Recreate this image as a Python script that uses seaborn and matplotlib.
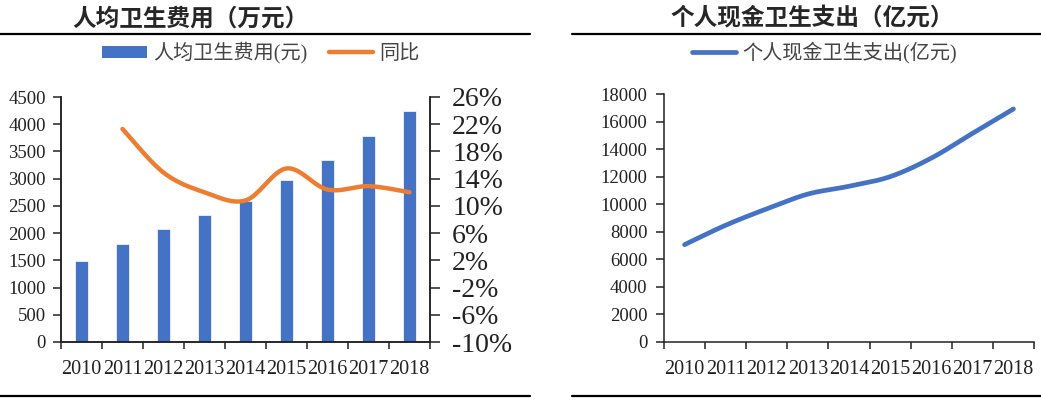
import numpy as np
import pandas as pd
import matplotlib
matplotlib.use("Agg")
import matplotlib.pyplot as plt
import seaborn as sns
from matplotlib.lines import Line2D
from matplotlib.patches import Patch
from matplotlib.ticker import FuncFormatter, MultipleLocator, FixedLocator

years = ["2010", "2011", "2012", "2013", "2014", "2015", "2016", "2017", "2018"]
per_capita = [1490, 1807, 2077, 2327, 2582, 2981, 3352, 3784, 4237]
yoy = [np.nan, 21.3, 14.9, 12.0, 10.8, 15.5, 12.4, 12.9, 12.0]
oop = [7051, 8465, 9656, 10729, 11295, 11993, 13338, 15134, 16912]
pct_ticks = [-10, -6, -2, 2, 6, 10, 14, 18, 22, 26]

BLUE = "#4472C4"
ORANGE = "#ED7D31"
CJK = "Noto Sans CJK SC"
SERIF = "Liberation Serif"

sns.set_style("ticks")
plt.rcParams["font.family"] = [SERIF, CJK]
plt.rcParams["axes.linewidth"] = 1.1
plt.rcParams["axes.edgecolor"] = "#222222"
plt.rcParams["xtick.color"] = "#222222"
plt.rcParams["ytick.color"] = "#222222"


def smooth(xs, ys, n=30):
    # excel-like smoothed line through the points (bezier, 1/6 tension)
    pts = np.column_stack([xs, ys]).astype(float)
    out = []
    for i in range(len(pts) - 1):
        p0 = pts[max(i - 1, 0)]
        p1 = pts[i]
        p2 = pts[i + 1]
        p3 = pts[min(i + 2, len(pts) - 1)]
        c1 = p1 + (p2 - p0) / 6
        c2 = p2 - (p3 - p1) / 6
        t = np.linspace(0, 1, n)[:, None]
        seg = (1 - t) ** 3 * p1 + 3 * (1 - t) ** 2 * t * c1 + 3 * (1 - t) * t ** 2 * c2 + t ** 3 * p2
        out.append(seg if i == 0 else seg[1:])
    out = np.vstack(out)
    return pd.DataFrame({"x": out[:, 0], "y": out[:, 1]})


def year_axis(ax, pad):
    ax.set_xlim(-0.5, len(years) - 0.5)
    ax.set_xticks(range(len(years)))
    ax.set_xticklabels(years)
    ax.set_xticks(np.arange(-0.5, len(years)), minor=True)
    ax.tick_params(axis="x", which="major", length=0, pad=pad, labelsize=14.5)
    ax.tick_params(axis="x", which="minor", length=5, width=1.1, direction="out")
    ax.set_xlabel("")
    ax.set_ylabel("")


fig = plt.figure(figsize=(10.41, 4.0), dpi=100)

# ---------- left panel ----------
ax = fig.add_axes([61 / 1041, 58 / 400, 369 / 1041, 245 / 400])
df_bar = pd.DataFrame({"year": years, "val": per_capita})
sns.barplot(data=df_bar, x="year", y="val", color=BLUE, saturation=1, width=0.32,
            edgecolor="white", linewidth=0.5, ax=ax)
ax.set_ylim(0, 4500)
ax.yaxis.set_major_locator(MultipleLocator(500))
ax.tick_params(axis="y", length=6, width=1.1, pad=5, labelsize=13.5)
year_axis(ax, 13)
ax.spines["top"].set_visible(False)

ax2 = ax.twinx()
valid = [i for i, v in enumerate(yoy) if not np.isnan(v)]
curve = smooth(valid, [yoy[i] for i in valid])
sns.lineplot(data=curve, x="x", y="y", color=ORANGE, linewidth=3.2, sort=False,
             estimator=None, ax=ax2, solid_capstyle="round")
ax2.set_ylim(-10, 26)
ax2.yaxis.set_major_locator(FixedLocator(pct_ticks))
ax2.yaxis.set_major_formatter(FuncFormatter(lambda v, p: f"{v:.0f}%"))
ax2.tick_params(axis="y", length=7, width=1.1, pad=9, labelsize=20)
ax2.spines["top"].set_visible(False)
ax2.set_xlabel("")
ax2.set_ylabel("")
ax2.set_xlim(-0.5, len(years) - 0.5)

fig.text(190 / 1041, 1 - 19 / 400, "人均卫生费用（万元）", family=CJK, weight="bold",
         fontsize=17, ha="center", va="center")
fig.legend(handles=[Patch(facecolor=BLUE, edgecolor="none"),
                    Line2D([], [], color=ORANGE, lw=3.2, solid_capstyle="round")],
           labels=["人均卫生费用(元)", "同比"], loc="center", ncol=2,
           bbox_to_anchor=(261 / 1041, 1 - 53 / 400), frameon=False,
           prop={"family": [SERIF, CJK], "size": 14.5}, handlelength=2.2,
           handleheight=0.55, handletextpad=0.3, columnspacing=1.1,
           labelcolor="#444444")

# ---------- right panel ----------
ax3 = fig.add_axes([664 / 1041, 58.3 / 400, 370 / 1041, 247.7 / 400])
curve2 = smooth(range(len(years)), oop)
sns.lineplot(data=curve2, x="x", y="y", color=BLUE, linewidth=3.4, sort=False,
             estimator=None, ax=ax3, solid_capstyle="round")
ax3.set_ylim(0, 18000)
ax3.yaxis.set_major_locator(MultipleLocator(2000))
ax3.tick_params(axis="y", length=6, width=1.1, pad=6, labelsize=13.5)
year_axis(ax3, 13)
ax3.spines["top"].set_visible(False)
ax3.spines["right"].set_visible(False)

fig.text(812 / 1041, 1 - 18 / 400, "个人现金卫生支出（亿元）", family=CJK, weight="bold",
         fontsize=17, ha="center", va="center")
fig.legend(handles=[Line2D([], [], color=BLUE, lw=3.4, solid_capstyle="round")],
           labels=["个人现金卫生支出(亿元)"], loc="center",
           bbox_to_anchor=(824 / 1041, 1 - 53 / 400), frameon=False,
           prop={"family": [SERIF, CJK], "size": 14.5}, handlelength=2.2,
           handletextpad=0.3, labelcolor="#444444")

# horizontal rules above and below each panel
for x0, x1 in [(0, 530), (572, 1041)]:
    for y in (34, 395.5):
        fig.add_artist(Line2D([x0 / 1041, x1 / 1041], [1 - y / 400, 1 - y / 400],
                              color="black", lw=1.6, transform=fig.transFigure))

fig.savefig("out.png", dpi=100)
